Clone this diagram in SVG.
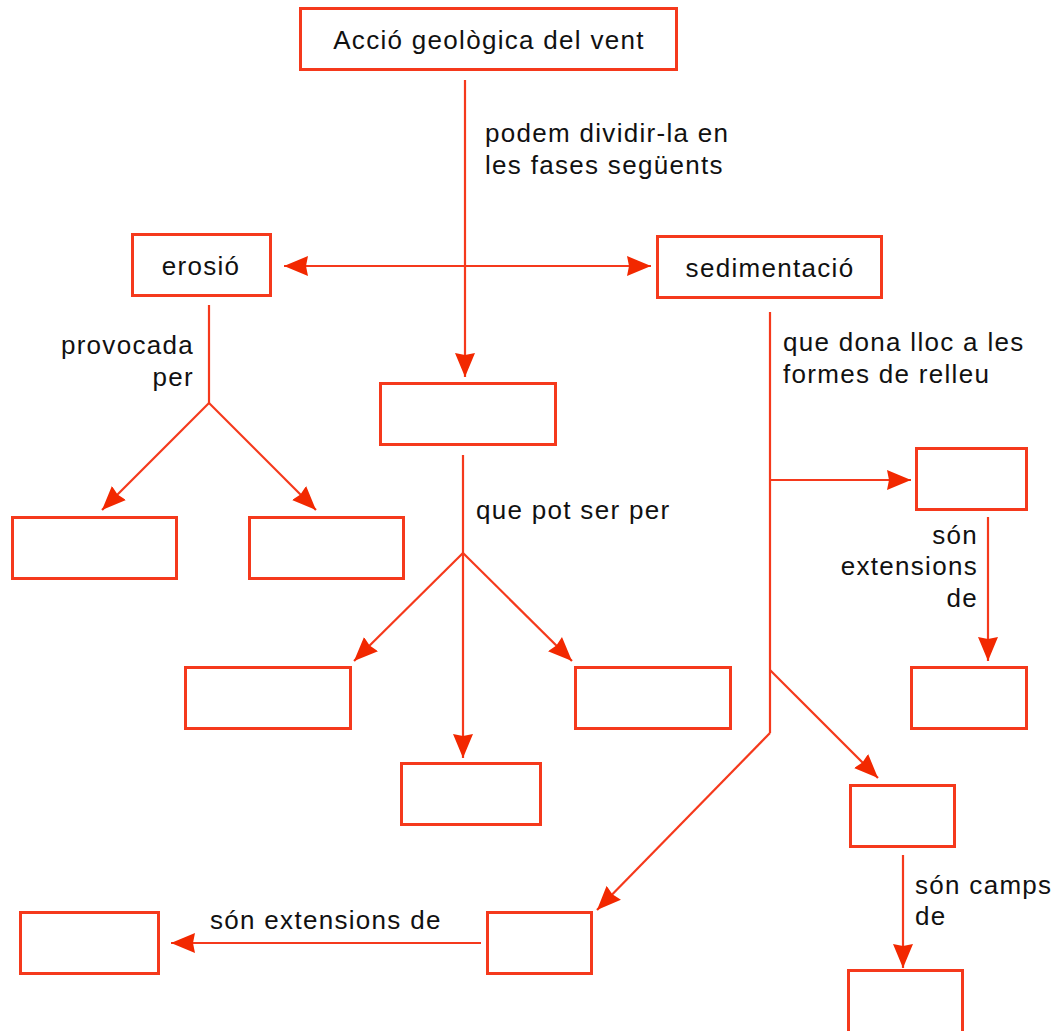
<svg xmlns="http://www.w3.org/2000/svg" width="1061" height="1031" viewBox="0 0 1061 1031">
<style>
.box{fill:#fff;stroke:#f5391c;stroke-width:3}
.ln{fill:none;stroke:#f5391c;stroke-width:2.2}
text{font-family:"Liberation Sans",Arial,sans-serif;font-size:26px;letter-spacing:1.3px;fill:#111}
.c{text-anchor:middle}
.r{text-anchor:end}
</style>
<defs>
<marker id="ah" markerUnits="userSpaceOnUse" markerWidth="26" markerHeight="22" refX="24" refY="11" orient="auto">
<path d="M0,1 L24,11 L0,21 L2,11 Z" fill="#f22800"/>
</marker>
</defs>
<rect width="1061" height="1031" fill="#fff"/>
<g id="connectors">
<line class="ln" x1="465" y1="80" x2="465" y2="377" marker-end="url(#ah)"/>
<line class="ln" x1="465" y1="266" x2="284" y2="266" marker-end="url(#ah)"/>
<line class="ln" x1="465" y1="266" x2="651" y2="266" marker-end="url(#ah)"/>
<line class="ln" x1="209" y1="305" x2="209" y2="403"/>
<line class="ln" x1="209" y1="403" x2="102" y2="510" marker-end="url(#ah)"/>
<line class="ln" x1="209" y1="403" x2="316" y2="510" marker-end="url(#ah)"/>
<line class="ln" x1="463" y1="455" x2="463" y2="758" marker-end="url(#ah)"/>
<line class="ln" x1="463" y1="553" x2="354" y2="661" marker-end="url(#ah)"/>
<line class="ln" x1="463" y1="553" x2="572" y2="661" marker-end="url(#ah)"/>
<line class="ln" x1="770" y1="312" x2="770" y2="733"/>
<line class="ln" x1="770" y1="480" x2="911" y2="480" marker-end="url(#ah)"/>
<line class="ln" x1="988" y1="517" x2="988" y2="661" marker-end="url(#ah)"/>
<line class="ln" x1="770" y1="670" x2="878" y2="778" marker-end="url(#ah)"/>
<line class="ln" x1="770" y1="733" x2="597" y2="910" marker-end="url(#ah)"/>
<line class="ln" x1="481" y1="943" x2="171" y2="943" marker-end="url(#ah)"/>
<line class="ln" x1="903" y1="855" x2="903" y2="968" marker-end="url(#ah)"/>
</g>
<g id="labels">
<text x="485" y="142">podem dividir-la en</text>
<text x="485" y="174">les fases següents</text>
<text class="r" x="194" y="354">provocada</text>
<text class="r" x="194" y="386">per</text>
<text x="476" y="519">que pot ser per</text>
<text x="783" y="351">que dona lloc a les</text>
<text x="783" y="383">formes de relleu</text>
<text class="r" x="978" y="544">són</text>
<text class="r" x="978" y="575">extensions</text>
<text class="r" x="978" y="607">de</text>
<text x="210" y="929">són extensions de</text>
<text x="915" y="894">són camps</text>
<text x="915" y="925">de</text>
</g>
<g id="n-accio"><rect class="box" x="300.5" y="8.5" width="376" height="61"/><text class="c" x="489" y="49">Acció geològica del vent</text></g>
<g id="n-erosio"><rect class="box" x="132.5" y="234.5" width="138" height="61"/><text class="c" x="201" y="275">erosió</text></g>
<g id="n-sediment"><rect class="box" x="657.5" y="236.5" width="224" height="61"/><text class="c" x="770" y="277">sedimentació</text></g>
<g id="n-mid"><rect class="box" x="380.5" y="383.5" width="175" height="61"/></g>
<g id="n-e1"><rect class="box" x="12.5" y="517.5" width="164" height="61"/></g>
<g id="n-e2"><rect class="box" x="249.5" y="517.5" width="154" height="61"/></g>
<g id="n-m1"><rect class="box" x="185.5" y="667.5" width="165" height="61"/></g>
<g id="n-m2"><rect class="box" x="575.5" y="667.5" width="155" height="61"/></g>
<g id="n-m3"><rect class="box" x="401.5" y="763.5" width="139" height="61"/></g>
<g id="n-s1"><rect class="box" x="916.5" y="448.5" width="110" height="61"/></g>
<g id="n-s1b"><rect class="box" x="911.5" y="667.5" width="115" height="61"/></g>
<g id="n-s2"><rect class="box" x="850.5" y="785.5" width="104" height="61"/></g>
<g id="n-s2b"><rect class="box" x="848.5" y="970.5" width="114" height="62"/></g>
<g id="n-s3"><rect class="box" x="487.5" y="912.5" width="104" height="61"/></g>
<g id="n-s3b"><rect class="box" x="20.5" y="912.5" width="138" height="61"/></g>
</svg>
